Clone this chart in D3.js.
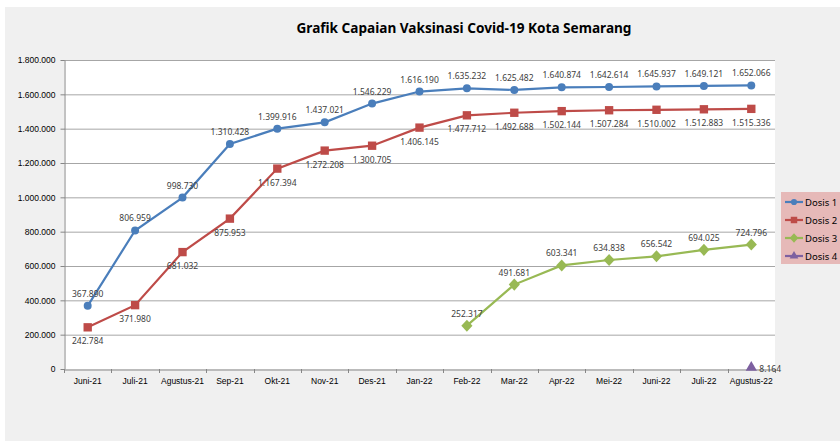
<!DOCTYPE html>
<html>
<head>
<meta charset="utf-8">
<script src="https://cdn.jsdelivr.net/npm/d3@7"></script>
<style>
  body { margin: 0; background: #fff; }
  svg { display: block; font-family: "Noto Sans", "Open Sans", sans-serif; }
</style>
</head>
<body>
<svg id="chart" width="840" height="441"></svg>
<script>
const months = ['Juni-21', 'Juli-21', 'Agustus-21', 'Sep-21', 'Okt-21', 'Nov-21', 'Des-21',
  'Jan-22', 'Feb-22', 'Mar-22', 'Apr-22', 'Mei-22', 'Juni-22', 'Juli-22', 'Agustus-22']

const dosis1 = [367890, 806959, 998730, 1310428, 1399916, 1437021, 1546229, 1616190,
  1635232, 1625482, 1640874, 1642614, 1645937, 1649121, 1652066]
const dosis2 = [242784, 371980, 681032, 875953, 1167394, 1272208, 1300705, 1406145,
  1477712, 1492688, 1502144, 1507284, 1510002, 1512883, 1515336]
const dosis3 = [null, null, null, null, null, null, null, null,
  252317, 491681, 603341, 634838, 656542, 694025, 724796]
const dosis4 = [null, null, null, null, null, null, null, null,
  null, null, null, null, null, null, 8164]

const yTicks = [0, 200000, 400000, 600000, 800000, 1000000, 1200000, 1400000, 1600000, 1800000]

const series = [
  {name: 'Dosis 1', values: dosis1, color: '#4a7ebb', symbol: d3.symbolCircle, size: 50, sx: 1, label: 'above'},
  {name: 'Dosis 2', values: dosis2, color: '#be4b48', symbol: d3.symbolSquare, size: 70, sx: 1, label: 'below'},
  {name: 'Dosis 3', values: dosis3, color: '#98b954', symbol: d3.symbolDiamond, size: 42, sx: 1.6, label: 'above'},
  {name: 'Dosis 4', values: dosis4, color: '#7d60a0', symbol: d3.symbolTriangle, size: 55, sx: 1, label: 'right'}
]

const locale = d3.formatLocale({decimal: ',', thousands: '.', grouping: [3], currency: ['', '']})
const fmt = locale.format(',d')

const svg = d3.select('#chart')

// backgrounds
svg.append('rect').attr('x', 5).attr('y', 7).attr('width', 835).attr('height', 434).attr('fill', '#f0f0f0')

const plotL = 64, plotR = 775, plotT = 60, plotB = 369

svg.append('rect').attr('x', plotL).attr('y', plotT)
  .attr('width', plotR - plotL).attr('height', plotB - plotT).attr('fill', '#fff')

svg.append('text')
  .attr('x', 464).attr('y', 33)
  .attr('text-anchor', 'middle')
  .style('font-size', '13.6px').style('font-weight', 'bold')
  .attr('fill', '#000')
  .text('Grafik Capaian Vaksinasi Covid-19 Kota Semarang')

const x = d3.scaleBand().domain(months).range([plotL, plotR])
const y = d3.scaleLinear().domain([0, 1800000]).range([plotB, plotT])
const cx = m => x(m) + x.bandwidth() / 2

// gridlines
svg.append('g')
  .selectAll('line')
  .data(yTicks.slice(1))
  .enter()
  .append('line')
  .attr('x1', plotL).attr('x2', plotR)
  .attr('y1', d => y(d) + 0.5).attr('y2', d => y(d) + 0.5)
  .attr('stroke', '#a6a6a6').attr('stroke-width', 1)

// axes
const yAxis = svg.append('g')
  .attr('transform', `translate(${plotL + 0.5},0)`)
  .call(d3.axisLeft(y).tickValues(yTicks).tickFormat(fmt).tickSize(4).tickSizeOuter(0))
yAxis.select('.domain').attr('stroke', '#868686')
yAxis.selectAll('.tick line').attr('stroke', '#868686')
yAxis.selectAll('text').attr('fill', '#000').style('font-size', '8.5px').attr('x', -9)

const xAxis = svg.append('g')
  .attr('transform', `translate(0,${plotB + 0.5})`)
  .call(d3.axisBottom(x).tickSize(0).tickSizeOuter(0))
xAxis.select('.domain').attr('stroke', '#868686')
xAxis.selectAll('text').attr('fill', '#000').style('font-size', '8.5px').attr('y', 8)
  .attr('dy', '0.71em')

// tick marks between categories
svg.append('g')
  .selectAll('line')
  .data(months.concat(['end']))
  .enter()
  .append('line')
  .attr('x1', (d, i) => Math.round(plotL + i * x.bandwidth()) + 0.5)
  .attr('x2', (d, i) => Math.round(plotL + i * x.bandwidth()) + 0.5)
  .attr('y1', plotB).attr('y2', plotB + 4)
  .attr('stroke', '#868686')

// lines + markers + labels
series.forEach(s => {
  const pts = months.map((m, i) => ({m: m, v: s.values[i]})).filter(p => p.v !== null)
  const line = d3.line().x(p => cx(p.m)).y(p => y(p.v))
  const g = svg.append('g')
  g.append('path')
    .attr('d', line(pts))
    .attr('fill', 'none')
    .attr('stroke', s.color)
    .attr('stroke-width', 2.2)
  g.selectAll('path.mk')
    .data(pts)
    .enter()
    .append('path')
    .attr('class', 'mk')
    .attr('transform', p => `translate(${cx(p.m)},${y(p.v)}) scale(${s.sx},1)`)
    .attr('d', d3.symbol().type(s.symbol).size(s.size))
    .attr('fill', s.color)
  g.selectAll('text')
    .data(pts)
    .enter()
    .append('text')
    .attr('x', p => s.label === 'right' ? cx(p.m) + 8 : cx(p.m))
    .attr('y', p => s.label === 'above' ? y(p.v) - 9 : s.label === 'below' ? y(p.v) + 17 : y(p.v) + 4)
    .attr('text-anchor', s.label === 'right' ? 'start' : 'middle')
    .style('font-size', '8.5px')
    .attr('fill', '#404040')
    .text(p => fmt(p.v))
})

// legend
const lg = svg.append('g').attr('transform', 'translate(781,192)')
lg.append('rect').attr('width', 60).attr('height', 72).attr('fill', '#e6b9b8')
series.forEach((s, i) => {
  const ly = 10 + i * 18
  lg.append('line').attr('x1', 4).attr('x2', 22).attr('y1', ly).attr('y2', ly)
    .attr('stroke', s.color).attr('stroke-width', 2.2)
  lg.append('path')
    .attr('transform', `translate(13,${ly}) scale(${s.sx},1)`)
    .attr('d', d3.symbol().type(s.symbol).size(s.size * 0.6))
    .attr('fill', s.color)
  lg.append('text').attr('x', 24).attr('y', ly + 3.5)
    .style('font-size', '9.5px').attr('fill', '#000')
    .text(s.name)
})
</script>
</body>
</html>
